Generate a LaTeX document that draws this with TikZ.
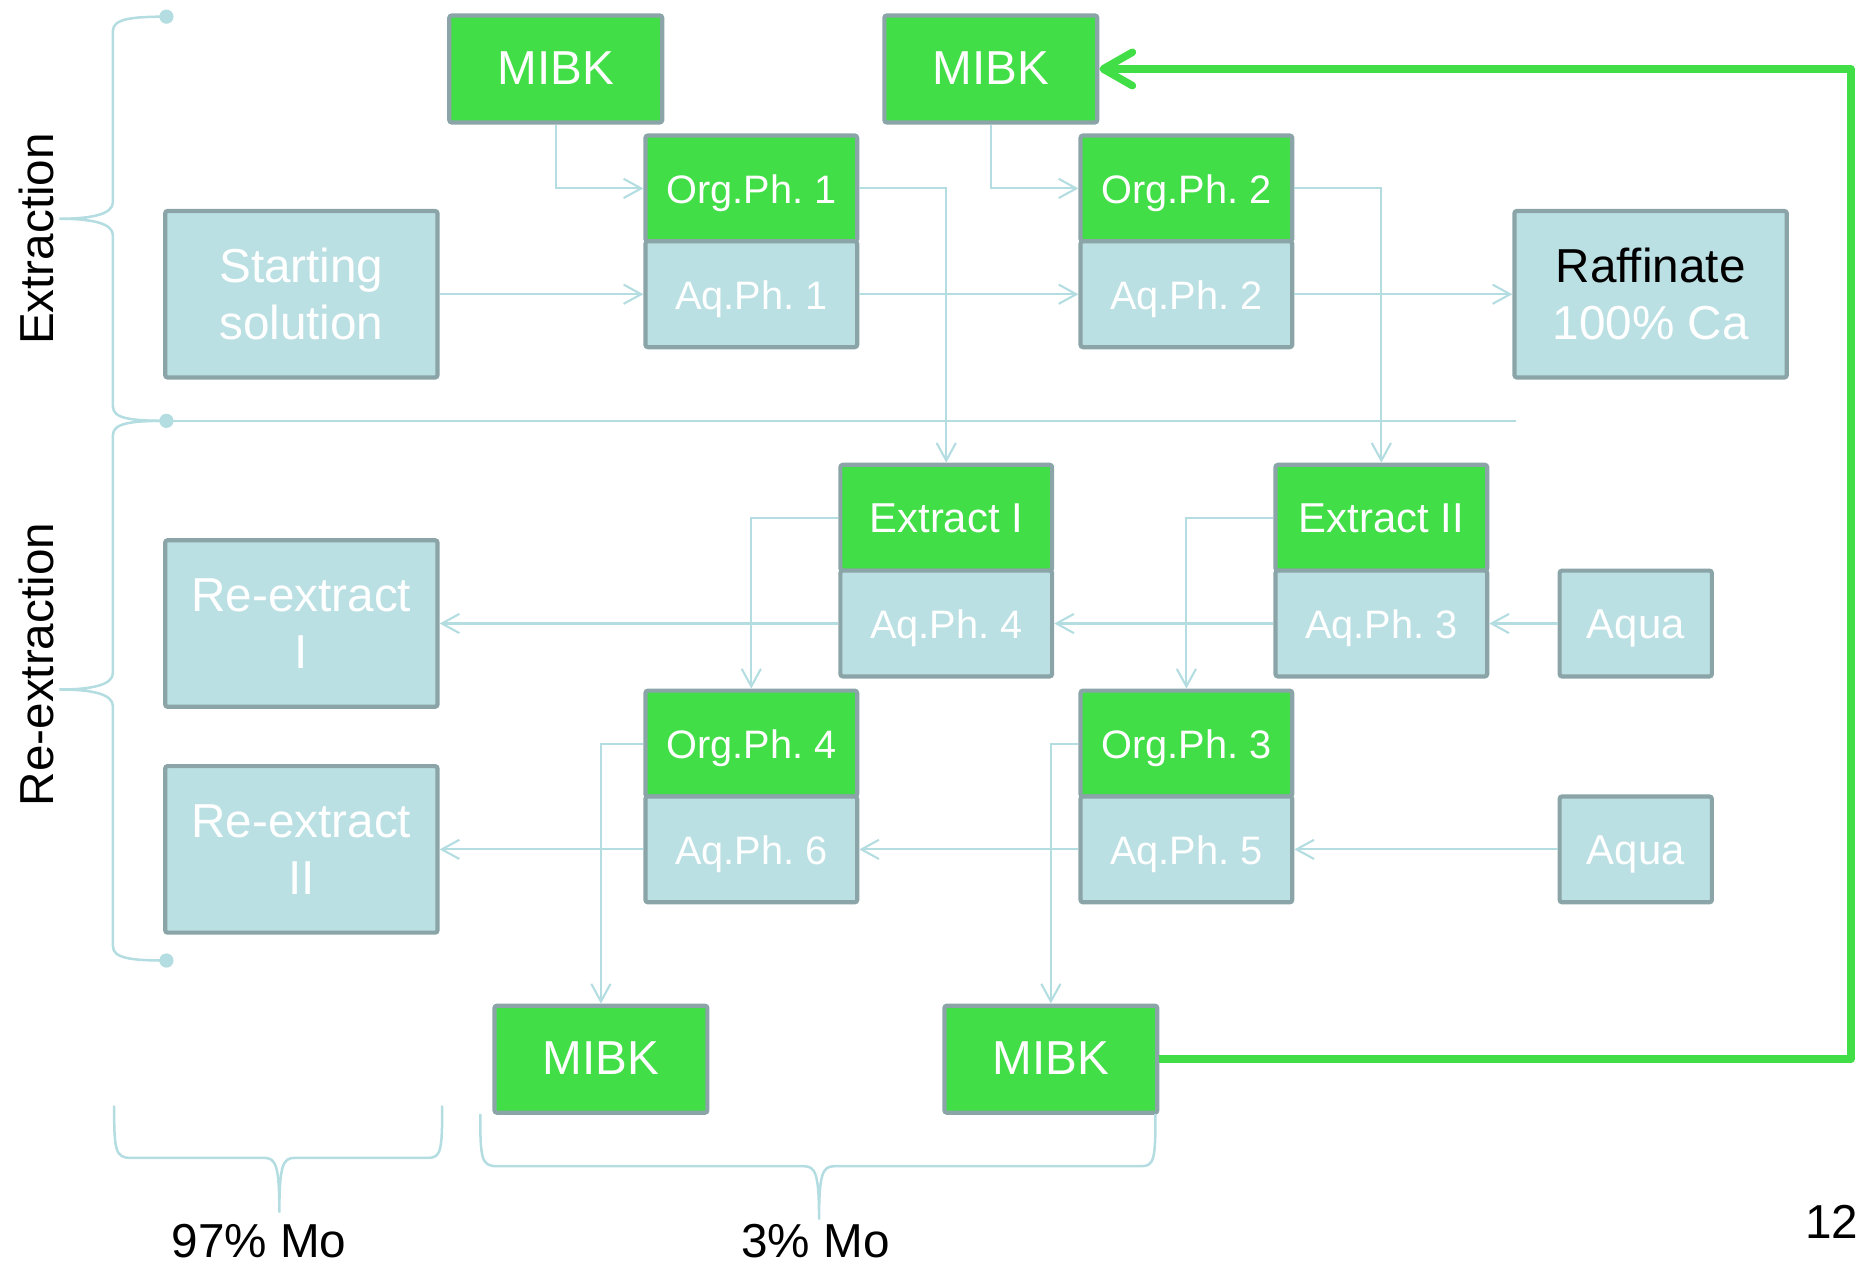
\documentclass[tikz,border=0pt]{standalone}
\usepackage{fontspec}
\setmainfont{Liberation Sans}
\usetikzlibrary{arrows.meta}
\definecolor{gfill}{RGB}{66,222,71}
\definecolor{bgray}{RGB}{138,164,167}
\definecolor{lblue}{RGB}{187,224,227}
\definecolor{cline}{RGB}{180,221,225}
\frenchspacing
\begin{document}
\begin{tikzpicture}[x=0.01cm,y=-0.01cm,
 box/.style={draw=bgray,line width=1pt,rounded corners=0.6pt,inner sep=0pt,align=center,text=white},
 oneline/.style={text height=0.72em,text depth=0pt},
 orgbox/.style={box,oneline,fill=gfill,minimum width=1.78cm,minimum height=0.89cm,font=\fontsize{9.5}{11}\selectfont},
 aqbox/.style={box,oneline,fill=lblue,minimum width=1.78cm,minimum height=0.89cm,font=\fontsize{9.5}{11}\selectfont},
 extbox/.style={orgbox,font=\fontsize{10}{12}\selectfont},
 mibk/.style={box,oneline,fill=gfill,minimum width=1.79cm,minimum height=0.90cm,font=\fontsize{11.4}{13.7}\selectfont},
 bigbox/.style={box,fill=lblue,minimum width=2.29cm,minimum height=1.40cm,font=\fontsize{11.4}{13.7}\selectfont},
 aquabox/.style={box,oneline,fill=lblue,minimum width=1.28cm,minimum height=0.89cm,font=\fontsize{10}{12}\selectfont},
 conn/.style={draw=cline,line width=0.5pt,-{Straight Barb[length=4.2pt,width=4.6pt]}},
 bracel/.style={draw=cline,line width=0.6pt},
 bigtxt/.style={font=\fontsize{11.4}{13.7}\selectfont,text=black,inner sep=0pt}
]
\useasboundingbox (0,0) rectangle (1568,1063);

% top MIBK
\node[mibk] (mibkA) at (467.5,58) {MIBK};
\node[mibk] (mibkB) at (833.5,58) {MIBK};
% extraction stages
\node[orgbox] (org1) at (632,158.5) {Org.Ph. 1};
\node[aqbox] (aq1) at (632,247.5) {Aq.Ph. 1};
\node[orgbox] (org2) at (998,158.5) {Org.Ph. 2};
\node[aqbox] (aq2) at (998,247.5) {Aq.Ph. 2};
\node[bigbox] (start) at (253.5,247.5) {Starting\\solution};
\node[bigbox,text=black] (raff) at (1388.5,247.5) {Raffinate\\\textcolor{white}{100\% Ca}};
% re-extraction stages
\node[extbox] (ext1) at (796,435.5) {Extract I};
\node[aqbox] (aq4) at (796,524.5) {Aq.Ph. 4};
\node[extbox] (ext2) at (1162,435.5) {Extract II};
\node[aqbox] (aq3) at (1162,524.5) {Aq.Ph. 3};
\node[aquabox] (aquaA) at (1376,524.5) {Aqua};
\node[bigbox] (re1) at (253.5,524.5) {Re-extract\\I};
\node[bigbox] (re2) at (253.5,714.5) {Re-extract\\II};
\node[orgbox] (org4) at (632,625.5) {Org.Ph. 4};
\node[aqbox] (aq6) at (632,714.5) {Aq.Ph. 6};
\node[orgbox] (org3) at (998,625.5) {Org.Ph. 3};
\node[aqbox] (aq5) at (998,714.5) {Aq.Ph. 5};
\node[aquabox] (aquaB) at (1376,714.5) {Aqua};
% bottom MIBK
\node[mibk] (mibkC) at (505.5,891) {MIBK};
\node[mibk] (mibkD) at (884,891) {MIBK};

% connectors
\draw[conn] (mibkA.south) |- (org1.west);
\draw[conn] (mibkB.south) |- (org2.west);
\draw[conn] (start.east) -- (aq1.west);
\draw[conn] (aq1.east) -- (aq2.west);
\draw[conn] (aq2.east) -- (raff.west);
\draw[conn] (org1.east) -| (ext1.north);
\draw[conn] (org2.east) -| (ext2.north);
\draw[conn] (ext1.west) -| (org4.north);
\draw[conn] (ext2.west) -| (org3.north);
\draw[conn] (aq4.west) -- (re1.east);
\draw[conn] (aq3.west) -- (aq4.east);
\draw[conn] (aquaA.west) -- (aq3.east);
\draw[conn] (org4.west) -| (mibkC.north);
\draw[conn] (org3.west) -| (mibkD.north);
\draw[conn] (aq6.west) -- (re2.east);
\draw[conn] (aq5.west) -- (aq6.east);
\draw[conn] (aquaB.west) -- (aq5.east);

% green recycle
\coordinate (gcorner) at (1557,58);
\draw[draw=gfill,line width=1.8pt,line join=round,-{Straight Barb[length=7pt,width=8pt,round]}]
  (mibkD.east) -| (gcorner) -- (mibkB.east);

% braces and separator
\coordinate (d1) at (140,14);
\coordinate (d2) at (140,354);
\coordinate (d3) at (140,808);
\coordinate (sepE) at (1275,354);
\draw[bracel] (d2) -- (sepE);
\draw[bracel] (d1) .. controls (110,14) and (95,16) .. (95,26) -- (95,170)
  .. controls (95,180) and (78,184) .. (50,184)
  .. controls (78,184) and (95,188) .. (95,198) -- (95,342)
  .. controls (95,352) and (110,354) .. (d2);
\draw[bracel] (d2) .. controls (110,354) and (95,356) .. (95,366) -- (95,566)
  .. controls (95,576) and (78,580) .. (50,580)
  .. controls (78,580) and (95,584) .. (95,594) -- (95,796)
  .. controls (95,806) and (110,808) .. (d3);
\fill[cline] (d1) circle (1.7pt);
\fill[cline] (d2) circle (1.7pt);
\fill[cline] (d3) circle (1.7pt);

\draw[bracel] (96,930) .. controls (96,968) and (97,974) .. (110,974) -- (222,974)
  .. controls (232,974) and (235,980) .. (235,1020)
  .. controls (235,980) and (238,974) .. (248,974) -- (360,974)
  .. controls (371,974) and (372,968) .. (372,930);
\draw[bracel] (404,937) .. controls (404,975) and (405,981) .. (418,981) -- (676,981)
  .. controls (686,981) and (689,987) .. (689,1026)
  .. controls (689,987) and (692,981) .. (702,981) -- (960,981)
  .. controls (971,981) and (972,975) .. (972,937);

% labels
\node[bigtxt,rotate=90,anchor=base] (lExt) at (45,201) {Extraction};
\node[bigtxt,rotate=90,anchor=base] (lRe) at (45,559) {Re-extraction};
\node[bigtxt,anchor=base] (p97) at (218,1058) {97\% Mo};
\node[bigtxt,anchor=base] (p3) at (686,1058) {3\% Mo};
\node[bigtxt,anchor=base] (pg) at (1541,1042) {12};
\end{tikzpicture}
\end{document}
